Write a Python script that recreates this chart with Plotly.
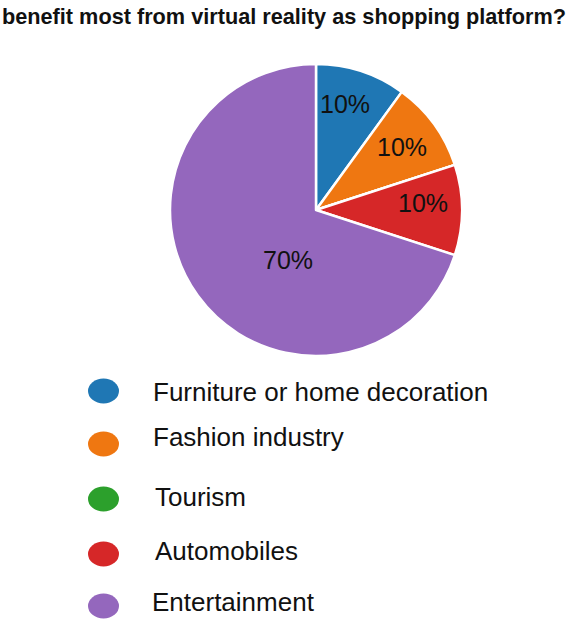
import plotly.graph_objects as go

# Survey results: which sector would benefit most from VR shopping
categories = ["Furniture or home decoration", "Fashion industry", "Tourism",
              "Automobiles", "Entertainment"]
shares = [10, 10, 0, 10, 70]
colors = ["#1f77b4", "#ef7711", "#2ca02c", "#d62728", "#9467bd"]
title_text = "benefit most from virtual reality as shopping platform?"

W, H = 569, 619
FONT = "Liberation Sans, Arial, sans-serif"

def px_x(x):
    return x / W

def px_y(y):
    return 1 - y / H

fig = go.Figure()
fig.add_trace(go.Pie(
    labels=categories,
    values=shares,
    textinfo="none",
    marker=dict(colors=colors, line=dict(color="white", width=2.5)),
    sort=False,
    direction="clockwise",
    rotation=0,
    showlegend=False,
    domain=dict(x=[px_x(170), px_x(462)], y=[px_y(356), px_y(64)]),
))

# Percentage labels placed inside their slices (pixel centres)
label_pos = [(345, 104), (402, 147), None, (423, 203), (288, 260)]
annotations = []
for v, pos in zip(shares, label_pos):
    if not v or pos is None:
        continue
    annotations.append(dict(
        text=f"{v}%", xref="paper", yref="paper", x=px_x(pos[0]), y=px_y(pos[1]),
        xanchor="center", yanchor="middle", showarrow=False,
        font=dict(family=FONT, size=25, color="#111111"),
    ))

# Hand-placed legend: ellipse swatch plus label for each category
legend_marker_y = [391, 444, 499, 554, 606]
legend_text_y = [392, 437, 497, 551, 602]
legend_text_x = [151, 151, 153, 153, 150]
shapes = []
for cat, col, my, ty, tx in zip(categories, colors, legend_marker_y, legend_text_y, legend_text_x):
    shapes.append(dict(
        type="circle", xref="paper", yref="paper",
        x0=px_x(88), x1=px_x(119), y0=px_y(my + 12.5), y1=px_y(my - 12.5),
        fillcolor=col, line=dict(width=0),
    ))
    annotations.append(dict(
        text=cat, xref="paper", yref="paper", x=px_x(tx), y=px_y(ty),
        xanchor="left", yanchor="middle", showarrow=False,
        font=dict(family=FONT, size=26, color="#111111"),
    ))

annotations.append(dict(
    text=f"<b>{title_text}</b>", xref="paper", yref="paper",
    x=px_x(284), y=px_y(16), xanchor="center", yanchor="middle", showarrow=False,
    font=dict(family=FONT, size=21.7, color="#111111"),
))

fig.update_layout(
    width=W, height=H,
    margin=dict(l=0, r=0, t=0, b=0),
    paper_bgcolor="white",
    plot_bgcolor="white",
    shapes=shapes,
    annotations=annotations,
)

fig.write_html("out.html")
